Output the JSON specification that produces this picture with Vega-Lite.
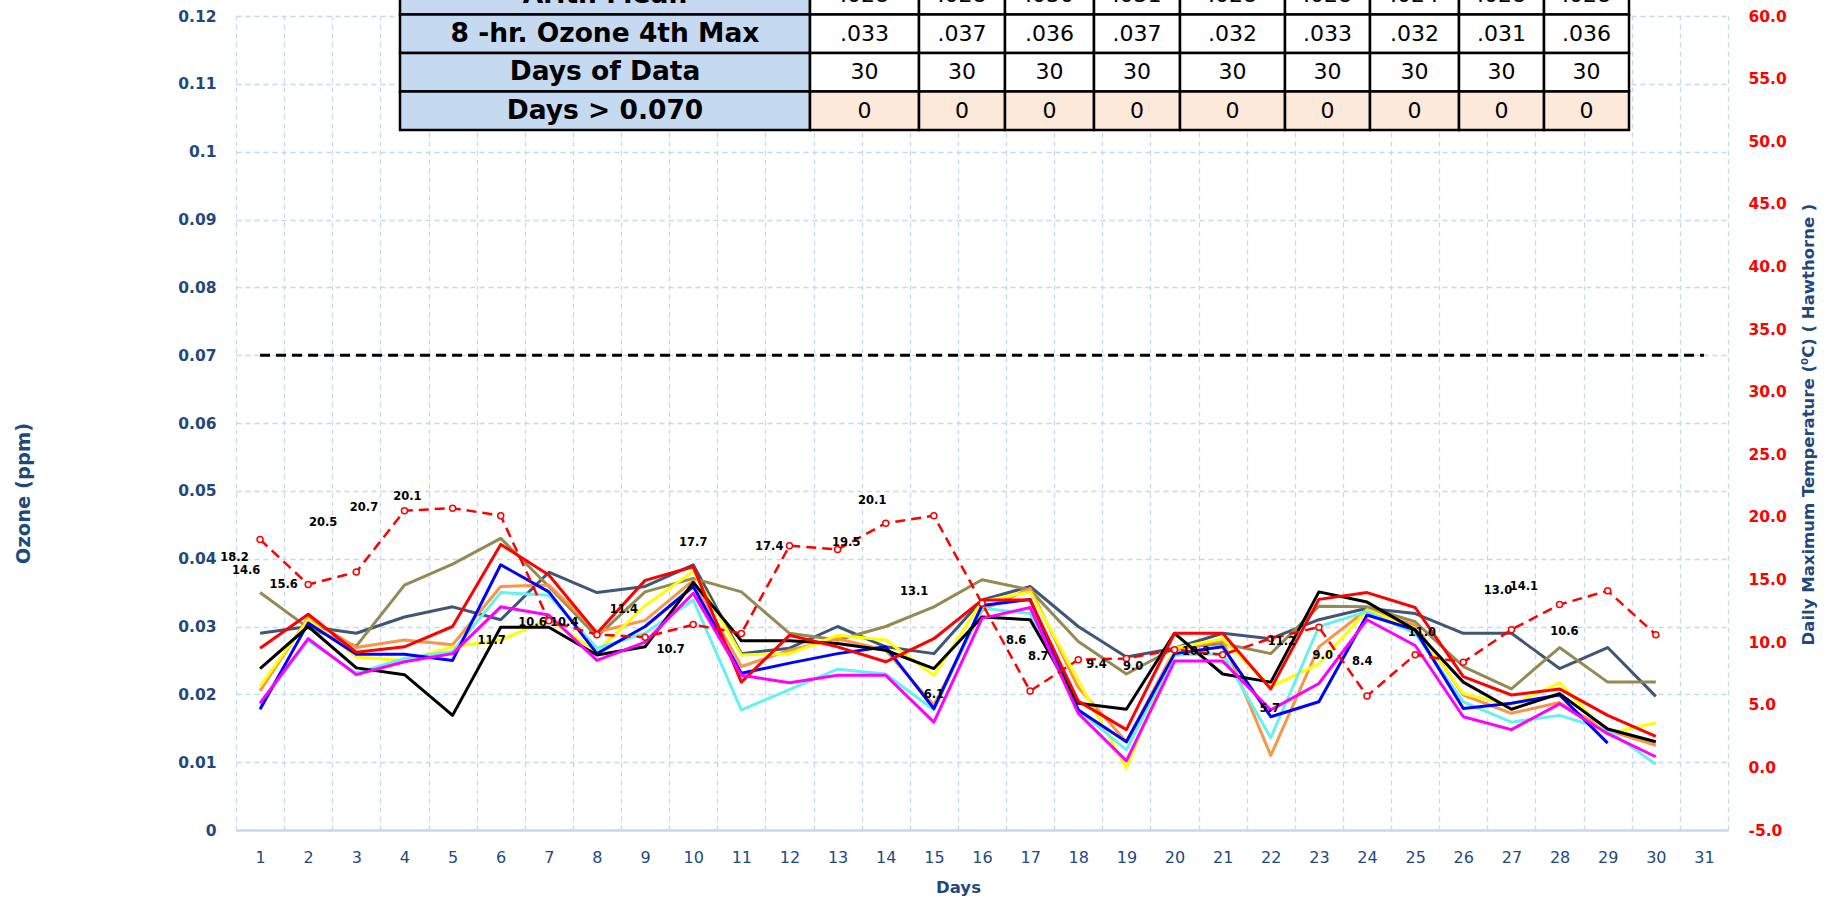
{
  "$schema": "https://vega.github.io/schema/vega-lite/v6.json",
  "autosize": "none",
  "width": 1492,
  "height": 814,
  "padding": {"left": 236, "top": 16, "right": 107, "bottom": 71},
  "background": "#FFFFFF",
  "config": {"view": {"stroke": null}},
  "datasets": {
    "ozone": [
      {"day":1,"station":"S9","ozone":0.029},{"day":2,"station":"S9","ozone":0.030},{"day":3,"station":"S9","ozone":0.029},{"day":4,"station":"S9","ozone":0.0314},{"day":5,"station":"S9","ozone":0.0329},{"day":6,"station":"S9","ozone":0.031},{"day":7,"station":"S9","ozone":0.038},{"day":8,"station":"S9","ozone":0.035},{"day":9,"station":"S9","ozone":0.0359},{"day":10,"station":"S9","ozone":0.0391},{"day":11,"station":"S9","ozone":0.026},{"day":12,"station":"S9","ozone":0.0268},{"day":13,"station":"S9","ozone":0.030},{"day":14,"station":"S9","ozone":0.027},{"day":15,"station":"S9","ozone":0.026},{"day":16,"station":"S9","ozone":0.0339},{"day":17,"station":"S9","ozone":0.0359},{"day":18,"station":"S9","ozone":0.030},{"day":19,"station":"S9","ozone":0.0255},{"day":20,"station":"S9","ozone":0.0268},{"day":21,"station":"S9","ozone":0.029},{"day":22,"station":"S9","ozone":0.0282},{"day":23,"station":"S9","ozone":0.031},{"day":24,"station":"S9","ozone":0.0327},{"day":25,"station":"S9","ozone":0.0319},{"day":26,"station":"S9","ozone":0.029},{"day":27,"station":"S9","ozone":0.029},{"day":28,"station":"S9","ozone":0.0238},{"day":29,"station":"S9","ozone":0.0269},{"day":30,"station":"S9","ozone":0.0197},
      {"day":1,"station":"S8","ozone":0.035},{"day":2,"station":"S8","ozone":0.0298},{"day":3,"station":"S8","ozone":0.0271},{"day":4,"station":"S8","ozone":0.0361},{"day":5,"station":"S8","ozone":0.0392},{"day":6,"station":"S8","ozone":0.043},{"day":7,"station":"S8","ozone":0.0359},{"day":8,"station":"S8","ozone":0.0285},{"day":9,"station":"S8","ozone":0.0351},{"day":10,"station":"S8","ozone":0.0371},{"day":11,"station":"S8","ozone":0.0351},{"day":12,"station":"S8","ozone":0.029},{"day":13,"station":"S8","ozone":0.028},{"day":14,"station":"S8","ozone":0.030},{"day":15,"station":"S8","ozone":0.0329},{"day":16,"station":"S8","ozone":0.0369},{"day":17,"station":"S8","ozone":0.0354},{"day":18,"station":"S8","ozone":0.0278},{"day":19,"station":"S8","ozone":0.023},{"day":20,"station":"S8","ozone":0.0268},{"day":21,"station":"S8","ozone":0.0275},{"day":22,"station":"S8","ozone":0.026},{"day":23,"station":"S8","ozone":0.033},{"day":24,"station":"S8","ozone":0.0329},{"day":25,"station":"S8","ozone":0.0307},{"day":26,"station":"S8","ozone":0.0241},{"day":27,"station":"S8","ozone":0.0208},{"day":28,"station":"S8","ozone":0.0269},{"day":29,"station":"S8","ozone":0.0218},{"day":30,"station":"S8","ozone":0.0218},
      {"day":1,"station":"S7","ozone":0.0205},{"day":2,"station":"S7","ozone":0.0313},{"day":3,"station":"S7","ozone":0.0269},{"day":4,"station":"S7","ozone":0.028},{"day":5,"station":"S7","ozone":0.0273},{"day":6,"station":"S7","ozone":0.0359},{"day":7,"station":"S7","ozone":0.0361},{"day":8,"station":"S7","ozone":0.0292},{"day":9,"station":"S7","ozone":0.0309},{"day":10,"station":"S7","ozone":0.0368},{"day":11,"station":"S7","ozone":0.0241},{"day":12,"station":"S7","ozone":0.0265},{"day":13,"station":"S7","ozone":0.0282},{"day":14,"station":"S7","ozone":0.0265},{"day":15,"station":"S7","ozone":0.0184},{"day":16,"station":"S7","ozone":0.0324},{"day":17,"station":"S7","ozone":0.0356},{"day":18,"station":"S7","ozone":0.021},{"day":19,"station":"S7","ozone":0.013},{"day":20,"station":"S7","ozone":0.0265},{"day":21,"station":"S7","ozone":0.028},{"day":22,"station":"S7","ozone":0.011},{"day":23,"station":"S7","ozone":0.027},{"day":24,"station":"S7","ozone":0.0325},{"day":25,"station":"S7","ozone":0.0302},{"day":26,"station":"S7","ozone":0.0199},{"day":27,"station":"S7","ozone":0.0172},{"day":28,"station":"S7","ozone":0.0188},{"day":29,"station":"S7","ozone":0.0147},{"day":30,"station":"S7","ozone":0.0125},
      {"day":1,"station":"S4","ozone":0.0212},{"day":2,"station":"S4","ozone":0.031},{"day":3,"station":"S4","ozone":0.0255},{"day":4,"station":"S4","ozone":0.025},{"day":5,"station":"S4","ozone":0.027},{"day":6,"station":"S4","ozone":0.028},{"day":7,"station":"S4","ozone":0.031},{"day":8,"station":"S4","ozone":0.0263},{"day":9,"station":"S4","ozone":0.0331},{"day":10,"station":"S4","ozone":0.0381},{"day":11,"station":"S4","ozone":0.0258},{"day":12,"station":"S4","ozone":0.026},{"day":13,"station":"S4","ozone":0.0287},{"day":14,"station":"S4","ozone":0.028},{"day":15,"station":"S4","ozone":0.0228},{"day":16,"station":"S4","ozone":0.0337},{"day":17,"station":"S4","ozone":0.0351},{"day":18,"station":"S4","ozone":0.022},{"day":19,"station":"S4","ozone":0.0091},{"day":20,"station":"S4","ozone":0.0268},{"day":21,"station":"S4","ozone":0.0282},{"day":22,"station":"S4","ozone":0.0211},{"day":23,"station":"S4","ozone":0.0245},{"day":24,"station":"S4","ozone":0.0324},{"day":25,"station":"S4","ozone":0.0297},{"day":26,"station":"S4","ozone":0.0201},{"day":27,"station":"S4","ozone":0.0184},{"day":28,"station":"S4","ozone":0.0217},{"day":29,"station":"S4","ozone":0.0142},{"day":30,"station":"S4","ozone":0.0158},
      {"day":1,"station":"S5","ozone":0.0185},{"day":2,"station":"S5","ozone":0.0279},{"day":3,"station":"S5","ozone":0.0231},{"day":4,"station":"S5","ozone":0.0253},{"day":5,"station":"S5","ozone":0.0263},{"day":6,"station":"S5","ozone":0.035},{"day":7,"station":"S5","ozone":0.0346},{"day":8,"station":"S5","ozone":0.0268},{"day":9,"station":"S5","ozone":0.029},{"day":10,"station":"S5","ozone":0.0339},{"day":11,"station":"S5","ozone":0.0177},{"day":12,"station":"S5","ozone":0.0207},{"day":13,"station":"S5","ozone":0.0237},{"day":14,"station":"S5","ozone":0.023},{"day":15,"station":"S5","ozone":0.0177},{"day":16,"station":"S5","ozone":0.0327},{"day":17,"station":"S5","ozone":0.0319},{"day":18,"station":"S5","ozone":0.0177},{"day":19,"station":"S5","ozone":0.0118},{"day":20,"station":"S5","ozone":0.0258},{"day":21,"station":"S5","ozone":0.026},{"day":22,"station":"S5","ozone":0.0136},{"day":23,"station":"S5","ozone":0.030},{"day":24,"station":"S5","ozone":0.0322},{"day":25,"station":"S5","ozone":0.029},{"day":26,"station":"S5","ozone":0.0189},{"day":27,"station":"S5","ozone":0.0159},{"day":28,"station":"S5","ozone":0.0169},{"day":29,"station":"S5","ozone":0.0147},{"day":30,"station":"S5","ozone":0.0097},
      {"day":1,"station":"S3","ozone":0.0178},{"day":2,"station":"S3","ozone":0.0305},{"day":3,"station":"S3","ozone":0.0259},{"day":4,"station":"S3","ozone":0.0259},{"day":5,"station":"S3","ozone":0.025},{"day":6,"station":"S3","ozone":0.0391},{"day":7,"station":"S3","ozone":0.0351},{"day":8,"station":"S3","ozone":0.026},{"day":9,"station":"S3","ozone":0.030},{"day":10,"station":"S3","ozone":0.0359},{"day":11,"station":"S3","ozone":0.0231},{"day":12,"station":"S3","ozone":0.0246},{"day":13,"station":"S3","ozone":0.026},{"day":14,"station":"S3","ozone":0.027},{"day":15,"station":"S3","ozone":0.0179},{"day":16,"station":"S3","ozone":0.0331},{"day":17,"station":"S3","ozone":0.034},{"day":18,"station":"S3","ozone":0.0177},{"day":19,"station":"S3","ozone":0.013},{"day":20,"station":"S3","ozone":0.026},{"day":21,"station":"S3","ozone":0.027},{"day":22,"station":"S3","ozone":0.0167},{"day":23,"station":"S3","ozone":0.0189},{"day":24,"station":"S3","ozone":0.0317},{"day":25,"station":"S3","ozone":0.0295},{"day":26,"station":"S3","ozone":0.0179},{"day":27,"station":"S3","ozone":0.0187},{"day":28,"station":"S3","ozone":0.0199},{"day":29,"station":"S3","ozone":0.0128},
      {"day":1,"station":"S1","ozone":0.0238},{"day":2,"station":"S1","ozone":0.030},{"day":3,"station":"S1","ozone":0.0239},{"day":4,"station":"S1","ozone":0.0229},{"day":5,"station":"S1","ozone":0.0169},{"day":6,"station":"S1","ozone":0.0299},{"day":7,"station":"S1","ozone":0.0299},{"day":8,"station":"S1","ozone":0.0258},{"day":9,"station":"S1","ozone":0.027},{"day":10,"station":"S1","ozone":0.0365},{"day":11,"station":"S1","ozone":0.0279},{"day":12,"station":"S1","ozone":0.0279},{"day":13,"station":"S1","ozone":0.0275},{"day":14,"station":"S1","ozone":0.0265},{"day":15,"station":"S1","ozone":0.0238},{"day":16,"station":"S1","ozone":0.0314},{"day":17,"station":"S1","ozone":0.031},{"day":18,"station":"S1","ozone":0.0187},{"day":19,"station":"S1","ozone":0.0178},{"day":20,"station":"S1","ozone":0.029},{"day":21,"station":"S1","ozone":0.023},{"day":22,"station":"S1","ozone":0.0218},{"day":23,"station":"S1","ozone":0.0351},{"day":24,"station":"S1","ozone":0.0336},{"day":25,"station":"S1","ozone":0.0295},{"day":26,"station":"S1","ozone":0.0218},{"day":27,"station":"S1","ozone":0.0178},{"day":28,"station":"S1","ozone":0.0201},{"day":29,"station":"S1","ozone":0.0149},{"day":30,"station":"S1","ozone":0.013},
      {"day":1,"station":"S2","ozone":0.0268},{"day":2,"station":"S2","ozone":0.0318},{"day":3,"station":"S2","ozone":0.0262},{"day":4,"station":"S2","ozone":0.027},{"day":5,"station":"S2","ozone":0.030},{"day":6,"station":"S2","ozone":0.0421},{"day":7,"station":"S2","ozone":0.0376},{"day":8,"station":"S2","ozone":0.029},{"day":9,"station":"S2","ozone":0.0368},{"day":10,"station":"S2","ozone":0.0388},{"day":11,"station":"S2","ozone":0.0218},{"day":12,"station":"S2","ozone":0.0287},{"day":13,"station":"S2","ozone":0.027},{"day":14,"station":"S2","ozone":0.0248},{"day":15,"station":"S2","ozone":0.0282},{"day":16,"station":"S2","ozone":0.0339},{"day":17,"station":"S2","ozone":0.0339},{"day":18,"station":"S2","ozone":0.019},{"day":19,"station":"S2","ozone":0.0148},{"day":20,"station":"S2","ozone":0.029},{"day":21,"station":"S2","ozone":0.029},{"day":22,"station":"S2","ozone":0.0208},{"day":23,"station":"S2","ozone":0.034},{"day":24,"station":"S2","ozone":0.035},{"day":25,"station":"S2","ozone":0.0328},{"day":26,"station":"S2","ozone":0.0226},{"day":27,"station":"S2","ozone":0.0199},{"day":28,"station":"S2","ozone":0.0208},{"day":29,"station":"S2","ozone":0.0169},{"day":30,"station":"S2","ozone":0.0138},
      {"day":1,"station":"S6","ozone":0.0187},{"day":2,"station":"S6","ozone":0.0282},{"day":3,"station":"S6","ozone":0.0229},{"day":4,"station":"S6","ozone":0.0248},{"day":5,"station":"S6","ozone":0.026},{"day":6,"station":"S6","ozone":0.0329},{"day":7,"station":"S6","ozone":0.0317},{"day":8,"station":"S6","ozone":0.025},{"day":9,"station":"S6","ozone":0.0277},{"day":10,"station":"S6","ozone":0.0349},{"day":11,"station":"S6","ozone":0.0228},{"day":12,"station":"S6","ozone":0.0217},{"day":13,"station":"S6","ozone":0.0228},{"day":14,"station":"S6","ozone":0.0228},{"day":15,"station":"S6","ozone":0.0159},{"day":16,"station":"S6","ozone":0.0312},{"day":17,"station":"S6","ozone":0.0328},{"day":18,"station":"S6","ozone":0.0172},{"day":19,"station":"S6","ozone":0.0102},{"day":20,"station":"S6","ozone":0.0249},{"day":21,"station":"S6","ozone":0.0249},{"day":22,"station":"S6","ozone":0.0177},{"day":23,"station":"S6","ozone":0.0216},{"day":24,"station":"S6","ozone":0.031},{"day":25,"station":"S6","ozone":0.0272},{"day":26,"station":"S6","ozone":0.0167},{"day":27,"station":"S6","ozone":0.0148},{"day":28,"station":"S6","ozone":0.0186},{"day":29,"station":"S6","ozone":0.0142},{"day":30,"station":"S6","ozone":0.0108}
    ],
    "temp": [
      {"day":1,"temp":18.2,"lx":0.47,"ly":16.7},{"day":2,"temp":14.6,"lx":0.71,"ly":15.7},{"day":3,"temp":15.6,"lx":1.49,"ly":14.6},{"day":4,"temp":20.5,"lx":2.31,"ly":19.5},{"day":5,"temp":20.7,"lx":3.16,"ly":20.7},{"day":6,"temp":20.1,"lx":4.06,"ly":21.6},{"day":7,"temp":11.7,"lx":5.81,"ly":10.1},{"day":8,"temp":10.6,"lx":6.66,"ly":11.5},{"day":9,"temp":10.4,"lx":7.32,"ly":11.5},{"day":10,"temp":11.4,"lx":8.56,"ly":12.6},
      {"day":11,"temp":10.7,"lx":9.53,"ly":9.4},{"day":12,"temp":17.7,"lx":10.0,"ly":17.9},{"day":13,"temp":17.4,"lx":11.58,"ly":17.6},{"day":14,"temp":19.5,"lx":13.18,"ly":17.9},{"day":15,"temp":20.1,"lx":13.72,"ly":21.3},{"day":16,"temp":13.1,"lx":14.59,"ly":14.0},{"day":17,"temp":6.1,"lx":15.0,"ly":5.8},{"day":18,"temp":8.6,"lx":16.71,"ly":10.1},{"day":19,"temp":8.7,"lx":17.17,"ly":8.8},{"day":20,"temp":9.4,"lx":18.38,"ly":8.2},
      {"day":21,"temp":9.0,"lx":19.14,"ly":8.0},{"day":22,"temp":10.3,"lx":20.45,"ly":9.2},{"day":23,"temp":11.2,"lx":22.23,"ly":10.0},{"day":24,"temp":5.7,"lx":21.98,"ly":4.7},{"day":25,"temp":9.0,"lx":23.08,"ly":8.9},{"day":26,"temp":8.4,"lx":23.9,"ly":8.4},{"day":27,"temp":11.0,"lx":25.14,"ly":10.7},{"day":28,"temp":13.0,"lx":26.72,"ly":14.1},{"day":29,"temp":14.1,"lx":27.26,"ly":14.4},{"day":30,"temp":10.6,"lx":28.1,"ly":10.8}
    ],
    "standard": [
      {"day":1,"ozone":0.07},{"day":31,"ozone":0.07}
    ],
    "table": [
      {"row":0,"col":0,"colEnd":1,"kind":"label","text":"Arith Mean"},
      {"row":1,"col":0,"colEnd":1,"kind":"label","text":"8 -hr. Ozone 4th Max"},
      {"row":2,"col":0,"colEnd":1,"kind":"label","text":"Days of Data"},
      {"row":3,"col":0,"colEnd":1,"kind":"label","text":"Days > 0.070"},
      {"row":0,"col":1,"colEnd":2,"kind":"value","text":".028"},{"row":0,"col":2,"colEnd":3,"kind":"value","text":".028"},{"row":0,"col":3,"colEnd":4,"kind":"value","text":".030"},{"row":0,"col":4,"colEnd":5,"kind":"value","text":".031"},{"row":0,"col":5,"colEnd":6,"kind":"value","text":".028"},{"row":0,"col":6,"colEnd":7,"kind":"value","text":".028"},{"row":0,"col":7,"colEnd":8,"kind":"value","text":".024"},{"row":0,"col":8,"colEnd":9,"kind":"value","text":".028"},{"row":0,"col":9,"colEnd":10,"kind":"value","text":".028"},
      {"row":1,"col":1,"colEnd":2,"kind":"value","text":".033"},{"row":1,"col":2,"colEnd":3,"kind":"value","text":".037"},{"row":1,"col":3,"colEnd":4,"kind":"value","text":".036"},{"row":1,"col":4,"colEnd":5,"kind":"value","text":".037"},{"row":1,"col":5,"colEnd":6,"kind":"value","text":".032"},{"row":1,"col":6,"colEnd":7,"kind":"value","text":".033"},{"row":1,"col":7,"colEnd":8,"kind":"value","text":".032"},{"row":1,"col":8,"colEnd":9,"kind":"value","text":".031"},{"row":1,"col":9,"colEnd":10,"kind":"value","text":".036"},
      {"row":2,"col":1,"colEnd":2,"kind":"value","text":"30"},{"row":2,"col":2,"colEnd":3,"kind":"value","text":"30"},{"row":2,"col":3,"colEnd":4,"kind":"value","text":"30"},{"row":2,"col":4,"colEnd":5,"kind":"value","text":"30"},{"row":2,"col":5,"colEnd":6,"kind":"value","text":"30"},{"row":2,"col":6,"colEnd":7,"kind":"value","text":"30"},{"row":2,"col":7,"colEnd":8,"kind":"value","text":"30"},{"row":2,"col":8,"colEnd":9,"kind":"value","text":"30"},{"row":2,"col":9,"colEnd":10,"kind":"value","text":"30"},
      {"row":3,"col":1,"colEnd":2,"kind":"exceed","text":"0"},{"row":3,"col":2,"colEnd":3,"kind":"exceed","text":"0"},{"row":3,"col":3,"colEnd":4,"kind":"exceed","text":"0"},{"row":3,"col":4,"colEnd":5,"kind":"exceed","text":"0"},{"row":3,"col":5,"colEnd":6,"kind":"exceed","text":"0"},{"row":3,"col":6,"colEnd":7,"kind":"exceed","text":"0"},{"row":3,"col":7,"colEnd":8,"kind":"exceed","text":"0"},{"row":3,"col":8,"colEnd":9,"kind":"exceed","text":"0"},{"row":3,"col":9,"colEnd":10,"kind":"exceed","text":"0"}
    ]
  },
  "layer": [
    {
      "layer": [
        {
          "data": {"name": "ozone"},
          "mark": {"type": "line", "strokeWidth": 3, "strokeJoin": "round"},
          "encoding": {
            "x": {
              "field": "day", "type": "quantitative",
              "scale": {"domain": [0.5, 31.5], "nice": false, "zero": false},
              "axis": {
                "values": [1,2,3,4,5,6,7,8,9,10,11,12,13,14,15,16,17,18,19,20,21,22,23,24,25,26,27,28,29,30,31],
                "grid": false, "ticks": false, "domain": true, "domainColor": "#C6D9F1", "domainWidth": 2.5,
                "labelFont": "DejaVu Sans", "labelFontSize": 16, "labelColor": "#1F497D", "labelPadding": 19,
                "labelFlush": false, "labelOverlap": false, "labelBound": false,
                "title": "Days", "titleFont": "DejaVu Sans", "titleFontSize": 16.5, "titleFontWeight": "bold",
                "titleColor": "#1F497D", "titleX": 722, "titleY": 57, "titleBaseline": "middle", "titleAlign": "center"
              }
            },
            "y": {
              "field": "ozone", "type": "quantitative",
              "scale": {"domain": [0, 0.12], "nice": false, "zero": false},
              "axis": {
                "values": [0,0.01,0.02,0.03,0.04,0.05,0.06,0.07,0.08,0.09,0.1,0.11,0.12],
                "format": ".2~f", "grid": true, "gridColor": "#C6D9F1", "gridDash": [5, 4], "gridWidth": 1.3,
                "ticks": false, "domain": false,
                "labelFont": "DejaVu Sans", "labelFontWeight": "bold", "labelFontSize": 15.5, "labelColor": "#1F497D",
                "labelPadding": 20, "labelBound": false, "labelOverlap": false,
                "title": "Ozone (ppm)", "titleFont": "DejaVu Sans", "titleFontWeight": "bold", "titleFontSize": 19.5,
                "titleColor": "#1F497D", "titleAngle": -90, "titleX": -213, "titleY": 477,
                "titleAlign": "center", "titleBaseline": "middle"
              }
            },
            "color": {
              "field": "station", "type": "nominal",
              "scale": {
                "domain": ["S9","S8","S7","S4","S5","S3","S1","S2","S6"],
                "range": ["#3F5677","#948A54","#F79646","#FFFF00","#66F0F0","#0000FF","#000000","#FF0000","#FF00FF"]
              },
              "legend": null
            }
          }
        },
        {
          "data": {"name": "temp"},
          "layer": [
            {
              "mark": {"type": "line", "color": "#FF0000", "strokeWidth": 2.5, "strokeDash": [10, 6]},
              "encoding": {
                "x": {"field": "day", "type": "quantitative"},
                "y": {
                  "field": "temp", "type": "quantitative",
                  "scale": {"domain": [-5, 60], "nice": false, "zero": false},
                  "axis": {
                    "orient": "right",
                    "values": [-5,0,5,10,15,20,25,30,35,40,45,50,55,60],
                    "labelExpr": "datum.value < 0 ? '-' + format(-datum.value, '.1f') : format(datum.value, '.1f')",
                    "grid": false, "ticks": false, "domain": false,
                    "labelFont": "DejaVu Sans", "labelFontWeight": "bold", "labelFontSize": 15.5, "labelColor": "#FF0000",
                    "labelPadding": 20, "labelBound": false, "labelOverlap": false,
                    "title": "Daily Maximum Temperature  (⁰C)  ( Hawthorne )",
                    "titleFont": "DejaVu Sans", "titleFontWeight": "bold", "titleFontSize": 16.5, "titleColor": "#1F497D",
                    "titleAngle": 270, "titleX": 80, "titleY": 408, "titleAlign": "center", "titleBaseline": "middle"
                  }
                }
              }
            },
            {
              "mark": {"type": "point", "shape": "circle", "filled": true, "fill": "#FFFFFF", "stroke": "#FF0000", "strokeWidth": 1.5, "size": 36, "opacity": 1},
              "encoding": {
                "x": {"field": "day", "type": "quantitative"},
                "y": {"field": "temp", "type": "quantitative"}
              }
            },
            {
              "mark": {"type": "text", "font": "DejaVu Sans", "fontWeight": "bold", "fontSize": 11.5, "color": "#000000", "align": "center", "baseline": "middle"},
              "encoding": {
                "x": {"field": "lx", "type": "quantitative"},
                "y": {"field": "ly", "type": "quantitative"},
                "text": {"field": "temp", "type": "quantitative", "format": ".1f"}
              }
            }
          ]
        }
      ],
      "resolve": {"scale": {"y": "independent"}}
    },
    {
      "data": {"name": "standard"},
      "mark": {"type": "line", "color": "#000000", "strokeWidth": 3, "strokeDash": [10, 6]},
      "encoding": {
        "x": {
          "field": "day", "type": "quantitative",
          "scale": {"domain": [0.5, 31.5], "nice": false, "zero": false},
          "axis": {
            "values": [0.5,1.5,2.5,3.5,4.5,5.5,6.5,7.5,8.5,9.5,10.5,11.5,12.5,13.5,14.5,15.5,16.5,17.5,18.5,19.5,20.5,21.5,22.5,23.5,24.5,25.5,26.5,27.5,28.5,29.5,30.5,31.5],
            "grid": true, "gridColor": "#C6D9F1", "gridDash": [5, 4], "gridWidth": 1.3,
            "labels": false, "ticks": false, "domain": false, "title": null
          }
        },
        "y": {
          "field": "ozone", "type": "quantitative",
          "scale": {"domain": [0, 0.12], "nice": false, "zero": false},
          "axis": null
        }
      }
    },
    {
      "data": {"name": "table"},
      "layer": [
        {
          "mark": {"type": "rect", "stroke": "#000000", "strokeWidth": 2.5},
          "encoding": {
            "x": {"field": "col", "type": "quantitative", "scale": {"domain": [0,1,2,3,4,5,6,7,8,9,10], "range": [164,574,683,769,858,944,1049,1134,1223,1308,1393], "nice": false, "zero": false}, "axis": null},
            "x2": {"field": "colEnd"},
            "y": {"field": "row", "type": "ordinal", "scale": {"type": "band", "range": [-40, 114], "paddingInner": 0, "paddingOuter": 0}, "axis": null},
            "fill": {"field": "kind", "type": "nominal", "scale": {"domain": ["label","value","exceed"], "range": ["#C5D9F1","#FFFFFF","#FDE9D9"]}, "legend": null}
          }
        },
        {
          "transform": [{"filter": "datum.kind === 'label'"}],
          "mark": {"type": "text", "font": "DejaVu Sans", "fontWeight": "bold", "fontSize": 26.5, "color": "#000000", "align": "center", "baseline": "middle"},
          "encoding": {
            "x": {"field": "col", "type": "quantitative", "scale": {"domain": [-0.5,0.5,1.5,2.5,3.5,4.5,5.5,6.5,7.5,8.5,9.5], "range": [164,574,683,769,858,944,1049,1134,1223,1308,1393], "nice": false, "zero": false}, "axis": null},
            "y": {"field": "row", "type": "ordinal", "axis": null},
            "text": {"field": "text", "type": "nominal"}
          }
        },
        {
          "transform": [{"filter": "datum.kind !== 'label'"}],
          "mark": {"type": "text", "font": "DejaVu Sans", "fontSize": 22, "color": "#000000", "align": "center", "baseline": "middle"},
          "encoding": {
            "x": {"field": "col", "type": "quantitative", "scale": {"domain": [-0.5,0.5,1.5,2.5,3.5,4.5,5.5,6.5,7.5,8.5,9.5], "range": [164,574,683,769,858,944,1049,1134,1223,1308,1393], "nice": false, "zero": false}, "axis": null},
            "y": {"field": "row", "type": "ordinal", "axis": null},
            "text": {"field": "text", "type": "nominal"}
          }
        }
      ],
      "resolve": {"scale": {"x": "independent"}}
    }
  ],
  "resolve": {"scale": {"x": "independent", "y": "independent"}}
}
